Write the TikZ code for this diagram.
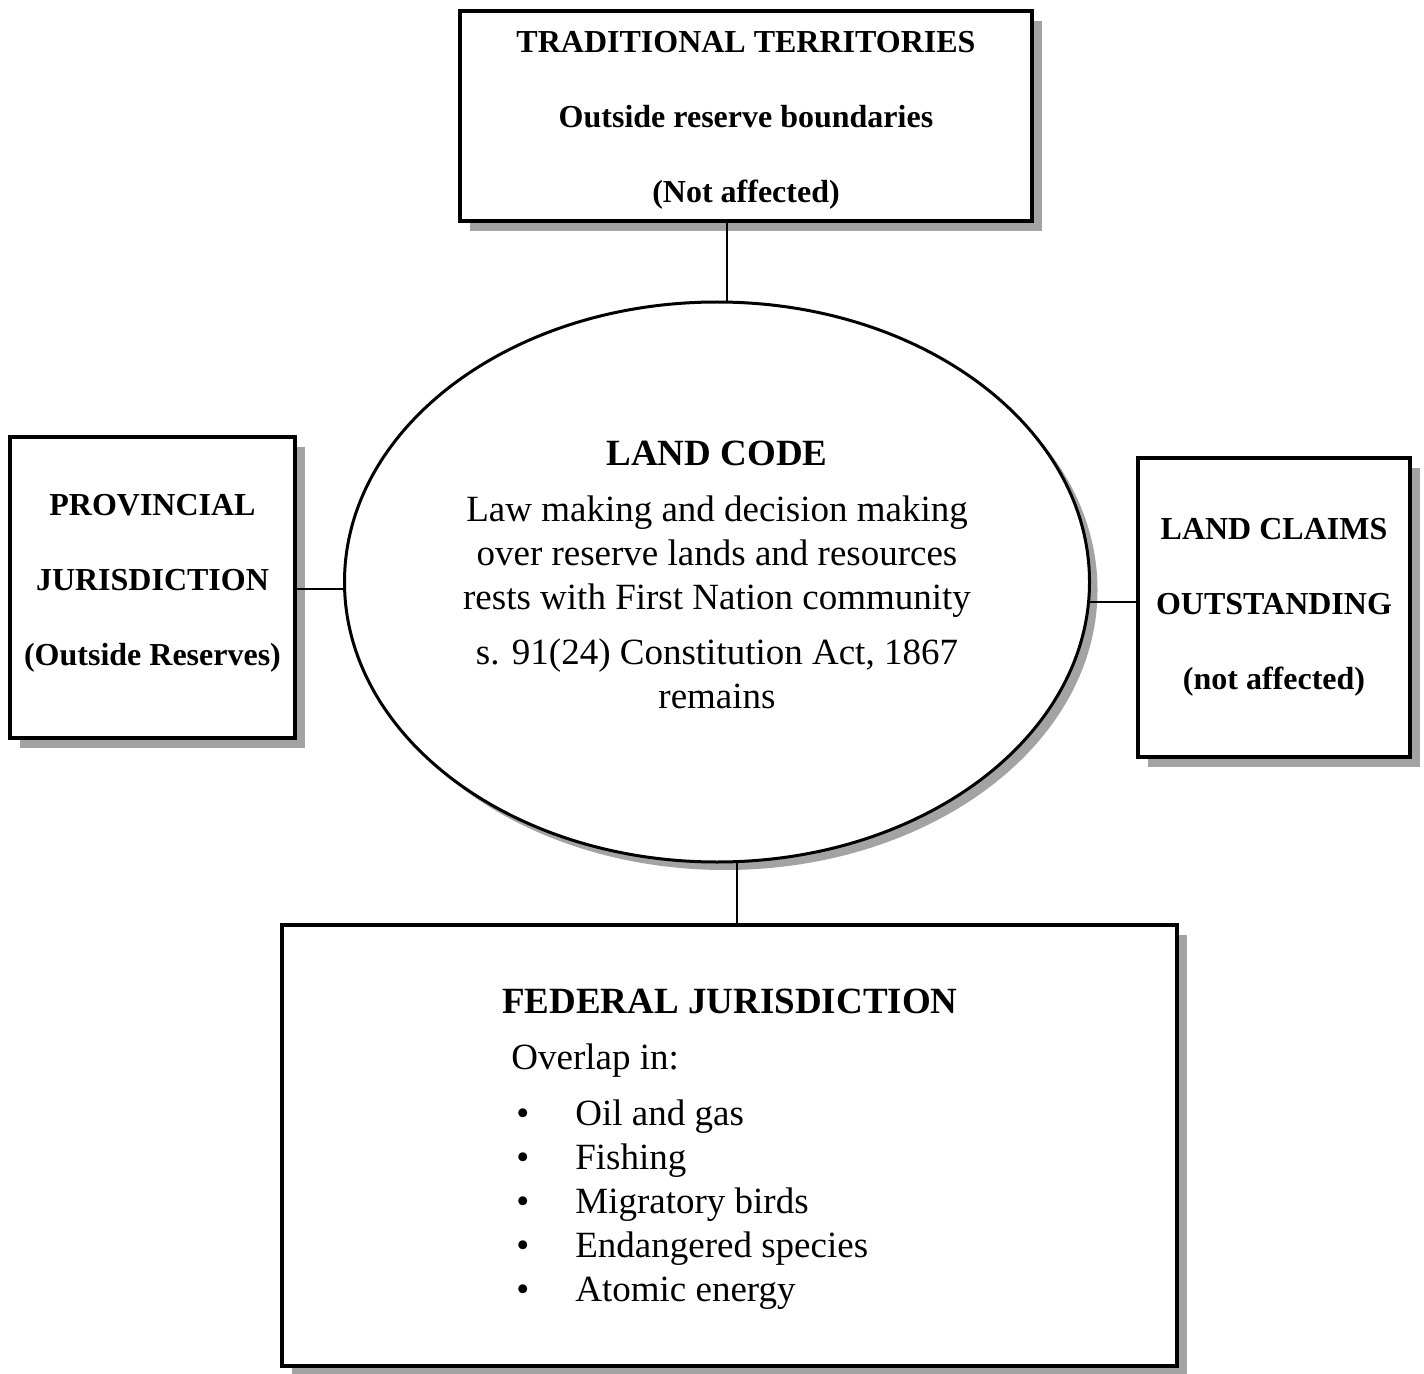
\documentclass[tikz,border=0pt]{standalone}
\usepackage{fontspec}
\setmainfont{Liberation Serif}
\usetikzlibrary{shadows,shapes.geometric}
\begin{document}
\begin{tikzpicture}[x=0.5pt,y=-0.5pt,
  box/.style={draw=black,line width=1.8pt,fill=white,rectangle,inner sep=0pt,align=center,
    font=\fontsize{16pt}{37.5pt}\selectfont\bfseries,
    drop shadow={shadow xshift=5pt,shadow yshift=-5pt,fill=black!45,opacity=0.8}},
  oval/.style={draw=black,line width=1.5pt,fill=white,ellipse,inner sep=0pt,align=center,
    font=\fontsize{18.5pt}{22pt}\selectfont,
    drop shadow={shadow xshift=4pt,shadow yshift=-4pt,fill=black!45,opacity=0.8}},
  fedtxt/.style={inner sep=0pt,font=\fontsize{18.5pt}{22pt}\selectfont},
  conn/.style={draw=black,line width=1pt}]
\useasboundingbox (0,0) rectangle (1424,1374);

\node[box,minimum width=286pt,minimum height=105pt] (top) at (746,116)
  {\rule{0pt}{14.6pt}TRADITIONAL TERRITORIES\\Outside reserve boundaries\\(Not affected)};
\node[box,minimum width=142.5pt,minimum height=150.5pt] (prov) at (152.5,587.5)
  {PROVINCIAL\\JURISDICTION\\(Outside Reserves)\rule[-7.4pt]{0pt}{7.4pt}};
\node[box,minimum width=136pt,minimum height=149.5pt] (claims) at (1274,607.5)
  {LAND CLAIMS\\OUTSTANDING\\(not affected)};
\node[box,minimum width=447.5pt,minimum height=220.5pt] (fed) at (729.5,1145.5) {};
\node[oval,minimum width=372.5pt,minimum height=280pt] (ell) at (717,582)
  {\textbf{LAND CODE}\\[6pt]Law making and decision making\\over reserve lands and resources\\rests with First Nation community\\[5.5pt]s. 91(24) Constitution Act, 1867\\remains\rule[-7.5pt]{0pt}{7.5pt}};

\node[fedtxt,font=\fontsize{18.5pt}{22pt}\selectfont\bfseries,anchor=base] (fedhead) at (730,1013) {FEDERAL JURISDICTION};
\node[fedtxt,anchor=base west] (overlap) at (511,1069) {Overlap in:};
\foreach \t [count=\i] in {Oil and gas, Fishing, Migratory birds, Endangered species, Atomic energy}
  \node[fedtxt,anchor=base west] (item\i) at (516,1081+44*\i) {\makebox[29.5pt][l]{\textbullet}\t};

\draw[conn] (ell.88) -- (ell.88 |- top.south);
\draw[conn] (ell.181) -- (ell.181 -| prov.east);
\draw[conn] (ell.-3.5) -- (ell.-3.5 -| claims.west);
\draw[conn] (ell.-86) -- (ell.-86 |- fed.north);
\end{tikzpicture}
\end{document}
